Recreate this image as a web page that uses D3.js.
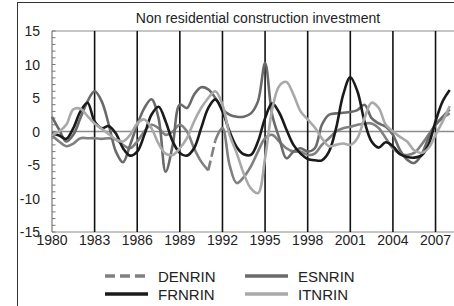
<!DOCTYPE html>
<html>
<head>
<meta charset="utf-8">
<script src="https://cdn.jsdelivr.net/npm/d3@7"></script>
<style>
body { margin: 0; background: #fff; }
text { font-family: "Liberation Sans", Arial, sans-serif; fill: #222; }
</style>
</head>
<body>
<div id="chart"></div>
<script>
// half-yearly observations, 1980 - 2008
var years = d3.range(1980, 2008.01, 0.5);

var denrin = [-0.6, -1.5, -2.2, -1.8, -1.0, -1.0, -1.0, -1.1, -1.0, -1.2,
              -2.0, -2.5, -1.5, 0.0, 1.0, 0.5, -0.5, 0.0, 1.0, 0.0,
              -2.5, -4.5, -5.8, -1.3, 0.5, -5.0, -7.7, -6.8, -5.2, -3.0,
              -1.0, -0.5, -1.5, -2.5, -3.0, -3.0, -3.5, -3.3, -2.0, -1.0,
              0.0, 0.5, 0.7, 1.0, 1.2, 1.2, 0.5, -1.0, -2.5, -3.3,
              -3.5, -3.2, -2.0, -0.5, 1.0, 2.0, 2.7];
// German series has a break (unification) between these two observations
var denBreak = [1991.0, 1991.5];

var esnrin = [2.2, 0.3, -1.5, -0.5, 2.0, 4.5, 6.0, 4.5, 1.0, -3.0,
              -4.6, -2.0, 1.0, 3.5, 4.8, 2.0, -6.0, -2.0, 4.0, 3.5,
              5.5, 6.6, 6.3, 5.0, 3.3, 2.5, 2.2, 2.2, 2.7, 4.5,
              10.2, 2.5, -1.0, -4.0, -3.0, -2.5, -3.0, -2.5, 1.0, 2.5,
              2.7, 2.8, 2.9, 3.2, 4.0, 2.0, 1.2, 0.7, -0.5, -2.8,
              -4.2, -4.7, -3.5, -1.0, 1.0, 2.2, 3.3];
var frnrin = [-0.3, -0.6, -1.1, 0.5, 3.0, 4.3, 1.5, 0.5, 0.8, -0.3,
              -2.5, -3.6, -3.0, -0.5, 2.5, 3.7, 1.5, -1.5, -3.2, -3.6,
              -2.5, 0.5, 3.5, 4.8, 3.0, 0.0, -2.3, -3.4, -3.5, -1.5,
              2.0, 4.2, 2.8, 0.3, -2.0, -3.3, -4.1, -4.3, -4.3, -3.0,
              0.5, 5.5, 8.1, 6.0, 1.5, -1.5, -2.4, -1.6, -2.2, -3.4,
              -3.8, -3.9, -3.6, -2.0, 1.5, 4.5, 6.2];
var itnrin = [-0.5, 0.0, 1.0, 3.3, 3.4, 2.3, 1.2, 0.4, -0.4, -1.2,
              -1.5, -0.5, 1.2, 1.8, 0.5, -1.8, -3.3, -3.5, -2.5, -1.0,
              1.5, 3.5, 5.0, 6.0, 4.0, -0.5, -3.2, -6.3, -8.5, -9.2,
              -4.0, 3.3, 6.8, 7.4, 5.5, 3.0, 1.8, 0.6, -1.0, -2.2,
              -2.0, -1.8, -2.0, -1.0, 2.0, 4.3, 3.5, 1.0, 0.0, -0.8,
              -1.5, -2.8, -3.2, -2.5, -0.5, 1.5, 3.8];

var seriesNames = ['DENRIN', 'ESNRIN', 'FRNRIN', 'ITNRIN'];
var xTicks = [1980, 1983, 1986, 1989, 1992, 1995, 1998, 2001, 2004, 2007];
var yTicks = [-15, -10, -5, 0, 5, 10, 15];

var width = 454, height = 306;

var x = d3.scaleLinear().domain([1980, 2008.3]).range([52, 454]);
var y = d3.scaleLinear().domain([-15, 15]).range([232, 31]);

var svg = d3.select('#chart').append('svg')
    .attr('width', width)
    .attr('height', height);

// outer frame
svg.append('rect')
    .attr('x', 17.5).attr('y', 2.5)
    .attr('width', 500).attr('height', 400)
    .attr('fill', 'none')
    .attr('stroke', '#333')
    .attr('stroke-width', 1);

svg.append('text')
    .attr('x', 258).attr('y', 23)
    .attr('text-anchor', 'middle')
    .style('font-size', '14px')
    .text('Non residential construction investment');

// plot borders and zero line
[15, -15, 0].forEach(function (v) {
  svg.append('line')
      .attr('x1', x(1980)).attr('x2', width)
      .attr('y1', y(v)).attr('y2', y(v))
      .attr('stroke', '#8c8c8c')
      .attr('stroke-width', v === 0 ? 1.5 : 1.2);
});

// vertical grid lines
svg.selectAll('.vgrid')
  .data(xTicks.slice(1))
  .enter().append('line')
    .attr('x1', function (d) { return x(d); })
    .attr('x2', function (d) { return x(d); })
    .attr('y1', y(15)).attr('y2', y(-15))
    .attr('stroke', '#111')
    .attr('stroke-width', 1.6);

// y axis with minor ticks
svg.append('line')
    .attr('x1', x(1980)).attr('x2', x(1980))
    .attr('y1', y(15)).attr('y2', y(-15))
    .attr('stroke', '#777').attr('stroke-width', 1.2);

svg.selectAll('.ytick')
  .data(d3.range(-15, 16))
  .enter().append('line')
    .attr('x1', x(1980)).attr('x2', x(1980) + 3.5)
    .attr('y1', function (d) { return y(d); })
    .attr('y2', function (d) { return y(d); })
    .attr('stroke', '#777').attr('stroke-width', 1);

svg.selectAll('.ylab')
  .data(yTicks)
  .enter().append('text')
    .attr('x', 40)
    .attr('y', function (d) { return y(d); })
    .attr('dy', '0.36em')
    .attr('text-anchor', 'end')
    .style('font-size', '14px')
    .text(function (d) { return d; });

svg.selectAll('.xlab')
  .data(xTicks)
  .enter().append('text')
    .attr('x', function (d) { return x(d); })
    .attr('y', 245)
    .attr('text-anchor', 'middle')
    .style('font-size', '14px')
    .text(function (d) { return d; });

var line = d3.line()
    .x(function (d) { return x(d[0]); })
    .y(function (d) { return y(d[1]); })
    .curve(d3.curveCatmullRom);

var styles = {
  DENRIN: {color: '#808080', dash: true},
  ESNRIN: {color: '#6a6a6a', dash: false},
  FRNRIN: {color: '#1a1a1a', dash: false},
  ITNRIN: {color: '#a9a9a9', dash: false}
};
var values = {DENRIN: denrin, ESNRIN: esnrin, FRNRIN: frnrin, ITNRIN: itnrin};

function drawPath(pts, color, dash, curve) {
  svg.append('path')
      .datum(pts)
      .attr('d', curve ? line : d3.line()
          .x(function (d) { return x(d[0]); })
          .y(function (d) { return y(d[1]); }))
      .attr('fill', 'none')
      .attr('stroke', color)
      .attr('stroke-width', 2.6)
      .attr('stroke-linejoin', 'round')
      .attr('stroke-dasharray', dash ? '10,4' : null);
}

seriesNames.forEach(function (name) {
  var pts = years.map(function (yr, i) { return [yr, values[name][i]]; });
  var st = styles[name];
  if (name === 'DENRIN') {
    // dashes only show where the series jumps at the break
    var before = pts.filter(function (d) { return d[0] <= denBreak[0]; });
    var after = pts.filter(function (d) { return d[0] >= denBreak[1]; });
    drawPath(before, st.color, false, true);
    drawPath([before[before.length - 1], after[0]], st.color, true, false);
    drawPath(after, st.color, false, true);
  } else {
    drawPath(pts, st.color, false, true);
  }
});

// legend
var legendPos = [
  {name: 'DENRIN', lx: 105, ly: 276},
  {name: 'ESNRIN', lx: 245, ly: 276},
  {name: 'FRNRIN', lx: 105, ly: 294},
  {name: 'ITNRIN', lx: 245, ly: 294}
];
legendPos.forEach(function (d) {
  svg.append('line')
      .attr('x1', d.lx).attr('x2', d.lx + 43)
      .attr('y1', d.ly).attr('y2', d.ly)
      .attr('stroke', styles[d.name].color)
      .attr('stroke-width', 3.5)
      .attr('stroke-dasharray', styles[d.name].dash ? '10,5' : null);
  svg.append('text')
      .attr('x', d.lx + 53).attr('y', d.ly)
      .attr('dy', '0.37em')
      .style('font-size', '15px')
      .text(d.name);
});
</script>
</body>
</html>
